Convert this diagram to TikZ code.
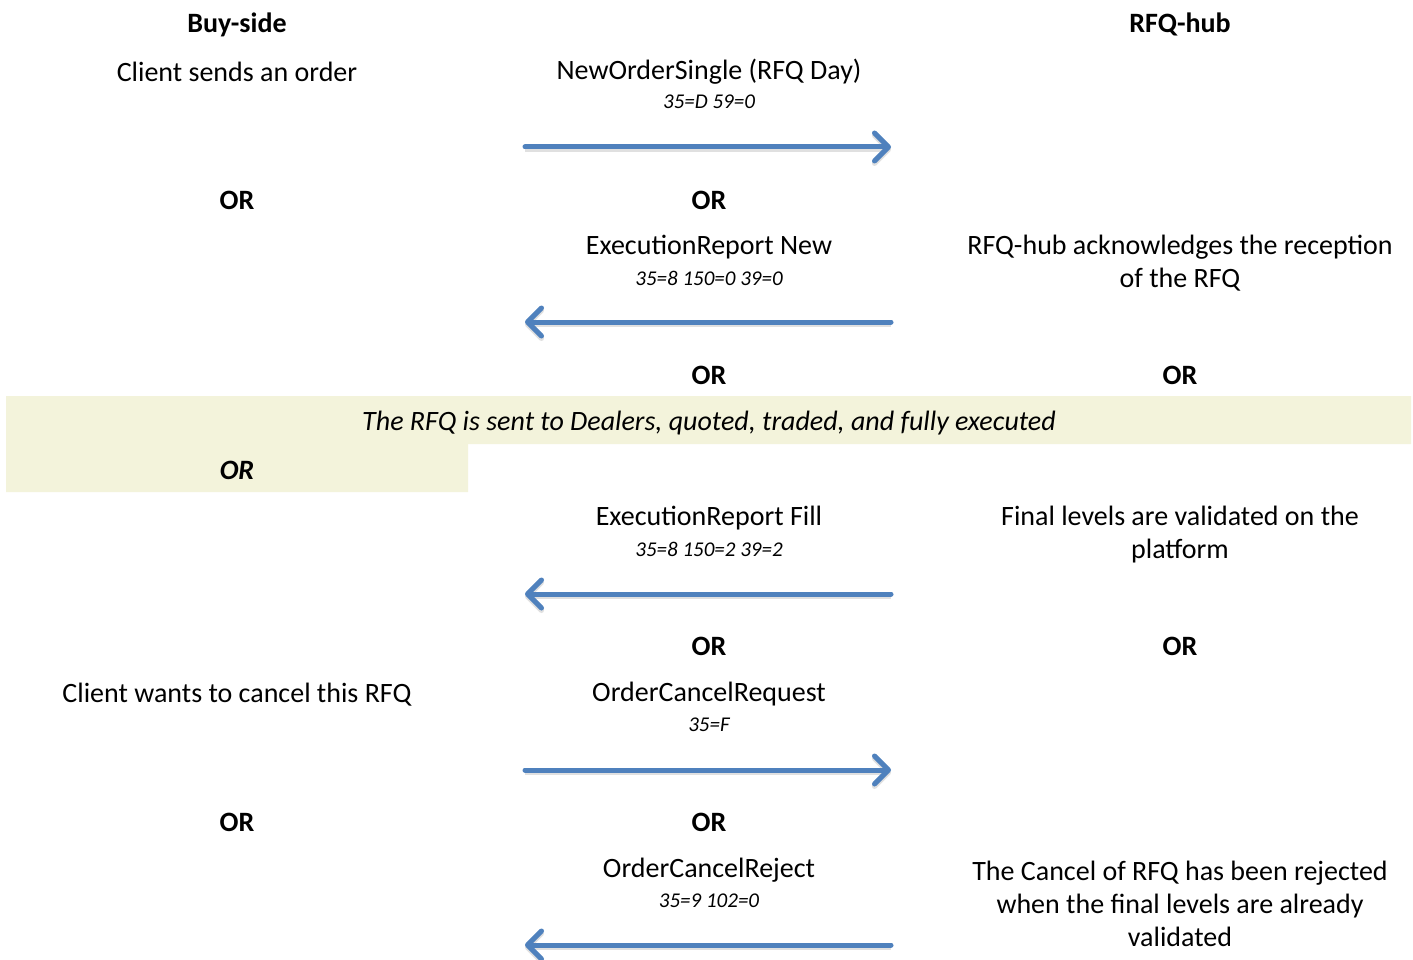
\documentclass[tikz,border=0pt]{standalone}
\usepackage{fontspec}
\setmainfont{Carlito}
\usetikzlibrary{arrows.meta}
\definecolor{flowblue}{RGB}{79,129,189}
\definecolor{bandfill}{RGB}{243,243,219}
\tikzset{
  txt/.style={inner sep=0pt, align=center, yshift=-1.5pt, font=\fontsize{28}{33}\selectfont},
  hdr/.style={txt, font=\fontsize{28}{33}\selectfont\bfseries},
  tag/.style={inner sep=0pt, font=\fontsize{21}{24}\selectfont\itshape},
  orlbl/.style={hdr},
  msg/.style={flowblue, line width=5pt, line cap=round,
    -{Straight Barb[length=14pt, width=28pt, line width=5pt, round]},
    preaction={draw=black!35, opacity=0.35, line width=5pt,
      transform canvas={yshift=-2.5pt},
      -{Straight Barb[length=14pt, width=28pt, line width=5pt, round]}}},
}
\begin{document}
\begin{tikzpicture}[x=1pt, y=-1pt]
\useasboundingbox (0,0) rectangle (1413,960);

% shaded band for the dealer phase
\fill[bandfill] (6,396) -- (1411,396) -- (1411,444) -- (468,444) -- (468,492) -- (6,492) -- cycle;

% column headings
\node[hdr] (buy) at (237,23) {Buy-side};
\node[hdr] (hub) at (1180,23) {RFQ-hub};

% step 1: new order
\node[txt] (s1l) at (237,70) {Client sends an order};
\node[txt] (m1) at (709,70) {NewOrderSingle (RFQ Day)};
\node[tag] (t1) at (709,102) {35=D 59=0};
\coordinate (a1s) at (525,147);
\coordinate (a1e) at (891,147);
\draw[msg] (a1s) -- (a1e);

\node[orlbl] (or1l) at (237,199) {OR};
\node[orlbl] (or1m) at (709,199) {OR};

% step 2: acknowledgement
\node[txt] (m2) at (709,246) {ExecutionReport New};
\node[tag] (t2) at (709,278) {35=8 150=0 39=0};
\node[txt] (s2r) at (1180,262) {RFQ-hub acknowledges the reception\\of the RFQ};
\coordinate (a2s) at (891,322);
\coordinate (a2e) at (525,322);
\draw[msg] (a2s) -- (a2e);

\node[orlbl] (or2m) at (709,374) {OR};
\node[orlbl] (or2r) at (1180,374) {OR};

% dealer phase
\node[txt, font=\fontsize{28}{33}\selectfont\itshape] (band) at (709,422) {The RFQ is sent to Dealers, quoted, traded, and fully executed};
\node[txt, font=\fontsize{28}{33}\selectfont\bfseries\itshape] (or3l) at (237,469) {OR};

% step 3: fill
\node[txt] (m3) at (709,517) {ExecutionReport Fill};
\node[tag] (t3) at (709,549) {35=8 150=2 39=2};
\node[txt] (s3r) at (1180,533) {Final levels are validated on the\\platform};
\coordinate (a3s) at (891,594);
\coordinate (a3e) at (525,594);
\draw[msg] (a3s) -- (a3e);

\node[orlbl] (or4m) at (709,645) {OR};
\node[orlbl] (or4r) at (1180,645) {OR};

% step 4: cancel request
\node[txt] (s4l) at (237,693) {Client wants to cancel this RFQ};
\node[txt] (m4) at (709,693) {OrderCancelRequest};
\node[tag] (t4) at (709,725) {35=F};
\coordinate (a4s) at (525,770);
\coordinate (a4e) at (891,770);
\draw[msg] (a4s) -- (a4e);

\node[orlbl] (or5l) at (237,821) {OR};
\node[orlbl] (or5m) at (709,821) {OR};

% step 5: cancel reject
\node[txt] (m5) at (709,869) {OrderCancelReject};
\node[tag] (t5) at (709,901) {35=9 102=0};
\node[txt] (s5r) at (1180,902) {The Cancel of RFQ has been rejected\\when the final levels are already\\validated};
\coordinate (a5s) at (891,945);
\coordinate (a5e) at (525,945);
\draw[msg] (a5s) -- (a5e);
\end{tikzpicture}
\end{document}
